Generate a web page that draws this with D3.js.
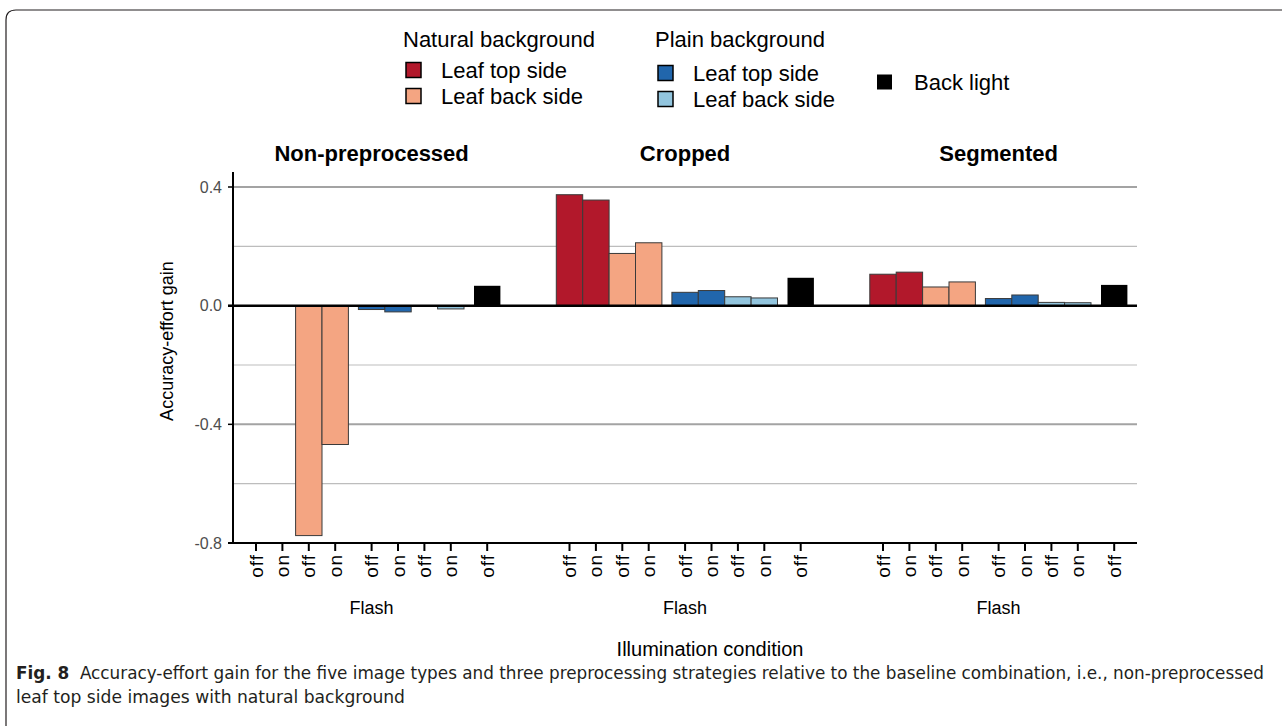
<!DOCTYPE html>
<html>
<head>
  <meta charset="utf-8">
  <script src="https://cdn.jsdelivr.net/npm/d3@7"></script>
  <style>
    body { margin: 0; background: #fff; }
    text { font-family: "Liberation Sans", Arial, sans-serif; }
  </style>
</head>
<body>
<svg width="1282" height="726"></svg>
<script>
  // ---- data ----
  var panels = ["Non-preprocessed", "Cropped", "Segmented"];
  var flashLabels = ["off", "on", "off", "on", "off", "on", "off", "on", "off"];
  var imageTypes = ["natTop", "natTop", "natBack", "natBack", "plainTop", "plainTop", "plainBack", "plainBack", "backLight"];
  var gainNonPre = [null, null, -0.775, -0.468, -0.013, -0.021, null, -0.011, 0.067];
  var gainCropped = [0.374, 0.356, 0.176, 0.212, 0.045, 0.051, 0.030, 0.026, 0.094];
  var gainSegmented = [0.106, 0.113, 0.063, 0.080, 0.024, 0.036, 0.011, 0.010, 0.070];
  var yTickValues = [0.4, 0.0, -0.4, -0.8];
  var majorGrid = [0.4, -0.4];
  var minorGrid = [0.2, -0.2, -0.6];

  var colours = {
    natTop: "#b2182b", natBack: "#f4a582",
    plainTop: "#2166ac", plainBack: "#92c5de",
    backLight: "#000000"
  };

  var gains = [gainNonPre, gainCropped, gainSegmented];

  var svg = d3.select("svg");

  var plotLeft = 233, plotRight = 1137;
  var y = d3.scaleLinear().domain([-0.8, 0.4]).range([543, 187]);

  // panels sit in equal bands, bars in slots inside each panel
  var panelX = d3.scaleBand().domain(panels).range([238, 1178.5]);
  var barW = 26.4, groupGap = 10, panelPad = 18;
  function groupOf(i) { return i < 4 ? 0 : (i < 8 ? 1 : 2); }
  function slotX(panel, i) {
    return panelX(panel) + panelPad + barW * i + groupGap * groupOf(i);
  }
  function panelMid(panel) {
    return (slotX(panel, 0) + slotX(panel, 8)) / 2;
  }

  // figure frame (top and left edges, rounded corner)
  svg.append("path")
      .attr("d", "M6,726 L6,20 Q6,10 16,10 L1282,10")
      .attr("fill", "none")
      .attr("stroke", "#231f20")
      .attr("stroke-width", 1.2);

  // grid
  svg.selectAll("line.minor").data(minorGrid).enter().append("line")
      .attr("class", "minor")
      .attr("x1", plotLeft).attr("x2", plotRight)
      .attr("y1", function(d) { return y(d); }).attr("y2", function(d) { return y(d); })
      .attr("stroke", "#bdbdbd").attr("stroke-width", 1.2);
  svg.selectAll("line.major").data(majorGrid).enter().append("line")
      .attr("class", "major")
      .attr("x1", plotLeft).attr("x2", plotRight)
      .attr("y1", function(d) { return y(d); }).attr("y2", function(d) { return y(d); })
      .attr("stroke", "#a3a3a3").attr("stroke-width", 2);

  // bars
  panels.forEach(function(panel, p) {
    var rows = gains[p].map(function(v, i) {
      return { v: v, i: i, type: imageTypes[i] };
    }).filter(function(d) { return d.v !== null; });

    svg.append("g").selectAll("rect").data(rows).enter().append("rect")
        .attr("x", function(d) { return slotX(panel, d.i) - barW / 2; })
        .attr("width", barW)
        .attr("y", function(d) { return y(Math.max(0, d.v)); })
        .attr("height", function(d) { return Math.abs(y(d.v) - y(0)); })
        .attr("fill", function(d) { return colours[d.type]; })
        .attr("stroke", function(d) { return d.type === "backLight" ? "none" : "#3a3a3a"; })
        .attr("stroke-width", 1);

    // panel title
    svg.append("text")
        .attr("x", panelMid(panel)).attr("y", 153)
        .attr("text-anchor", "middle").attr("dominant-baseline", "central")
        .attr("font-size", 22).attr("font-weight", "bold")
        .text(panel);

    // x ticks and labels
    var g = svg.append("g");
    g.selectAll("line").data(flashLabels).enter().append("line")
        .attr("x1", function(d, i) { return slotX(panel, i); })
        .attr("x2", function(d, i) { return slotX(panel, i); })
        .attr("y1", 543).attr("y2", 551)
        .attr("stroke", "#000").attr("stroke-width", 2);
    g.selectAll("text").data(flashLabels).enter().append("text")
        .attr("transform", function(d, i) {
          return "translate(" + slotX(panel, i) + ",554) rotate(-90)";
        })
        .attr("text-anchor", "end").attr("dominant-baseline", "central")
        .attr("font-size", 19).attr("letter-spacing", 1)
        .text(function(d) { return d; });

    svg.append("text")
        .attr("x", panelMid(panel)).attr("y", 608)
        .attr("text-anchor", "middle").attr("dominant-baseline", "central")
        .attr("font-size", 18)
        .text("Flash");
  });

  // zero line
  svg.append("line")
      .attr("x1", 228).attr("x2", plotRight)
      .attr("y1", y(0)).attr("y2", y(0))
      .attr("stroke", "#000").attr("stroke-width", 2.5);

  // y axis
  svg.append("line")
      .attr("x1", plotLeft).attr("x2", plotLeft)
      .attr("y1", 172).attr("y2", 544)
      .attr("stroke", "#000").attr("stroke-width", 2);
  svg.selectAll("line.ytick").data(yTickValues).enter().append("line")
      .attr("class", "ytick")
      .attr("x1", 228).attr("x2", plotLeft)
      .attr("y1", function(d) { return y(d); }).attr("y2", function(d) { return y(d); })
      .attr("stroke", "#000").attr("stroke-width", 1.5);
  var fmt = d3.formatLocale({ decimal: ".", thousands: ",", grouping: [3], currency: ["", ""], minus: "-" }).format(".1f");
  svg.selectAll("text.ytick").data(yTickValues).enter().append("text")
      .attr("class", "ytick")
      .attr("x", 222).attr("y", function(d) { return y(d); })
      .attr("text-anchor", "end").attr("dominant-baseline", "central")
      .attr("font-size", 16).attr("fill", "#4d4d4d")
      .text(function(d) { return fmt(d); });

  // x axis line
  svg.append("line")
      .attr("x1", 228).attr("x2", plotRight)
      .attr("y1", 543).attr("y2", 543)
      .attr("stroke", "#000").attr("stroke-width", 2);

  svg.append("text")
      .attr("transform", "translate(167,341) rotate(-90)")
      .attr("text-anchor", "middle").attr("dominant-baseline", "central")
      .attr("font-size", 18)
      .text("Accuracy-effort gain");

  svg.append("text")
      .attr("x", 710).attr("y", 649)
      .attr("text-anchor", "middle").attr("dominant-baseline", "central")
      .attr("font-size", 20)
      .text("Illumination condition");

  // ---- legend ----
  var legendTitles = ["Natural background", "Plain background"];
  var legendItems = [
    [{ label: "Leaf top side", type: "natTop" }, { label: "Leaf back side", type: "natBack" }],
    [{ label: "Leaf top side", type: "plainTop" }, { label: "Leaf back side", type: "plainBack" }]
  ];
  var legendX = [403, 655], legendRow0 = [70, 73];

  legendTitles.forEach(function(title, k) {
    var lg = svg.append("g");
    lg.append("text")
        .attr("x", legendX[k]).attr("y", 39)
        .attr("dominant-baseline", "central")
        .attr("font-size", 22)
        .text(title);
    legendItems[k].forEach(function(item, r) {
      var cy = legendRow0[k] + r * 26;
      lg.append("rect")
          .attr("x", legendX[k] + 3).attr("y", cy - 7.5)
          .attr("width", 15).attr("height", 15)
          .attr("fill", colours[item.type])
          .attr("stroke", "#000").attr("stroke-width", 1.5);
      lg.append("text")
          .attr("x", legendX[k] + 38).attr("y", cy)
          .attr("dominant-baseline", "central")
          .attr("font-size", 22)
          .text(item.label);
    });
  });
  svg.append("rect")
      .attr("x", 877).attr("y", 74.5)
      .attr("width", 15).attr("height", 15)
      .attr("fill", colours.backLight);
  svg.append("text")
      .attr("x", 914).attr("y", 82)
      .attr("dominant-baseline", "central")
      .attr("font-size", 22)
      .text("Back light");

  // ---- caption ----
  var captionFont = "'Liberation Sans Narrow', 'DejaVu Sans Condensed', 'Liberation Sans', sans-serif";
  var cap1 = svg.append("text")
      .attr("x", 16).attr("y", 679)
      .attr("font-size", 17).attr("fill", "#231f20")
      .style("font-family", captionFont)
      .attr("textLength", 1248).attr("lengthAdjust", "spacingAndGlyphs");
  cap1.append("tspan").attr("font-weight", "bold").text("Fig. 8");
  cap1.append("tspan").text("\u00a0\u00a0Accuracy-effort gain for the five image types and three preprocessing strategies relative to the baseline combination, i.e., non-preprocessed");
  svg.append("text")
      .attr("x", 16).attr("y", 703)
      .attr("font-size", 17).attr("fill", "#231f20")
      .style("font-family", captionFont)
      .attr("textLength", 389).attr("lengthAdjust", "spacingAndGlyphs")
      .text("leaf top side images with natural background");
</script>
</body>
</html>
